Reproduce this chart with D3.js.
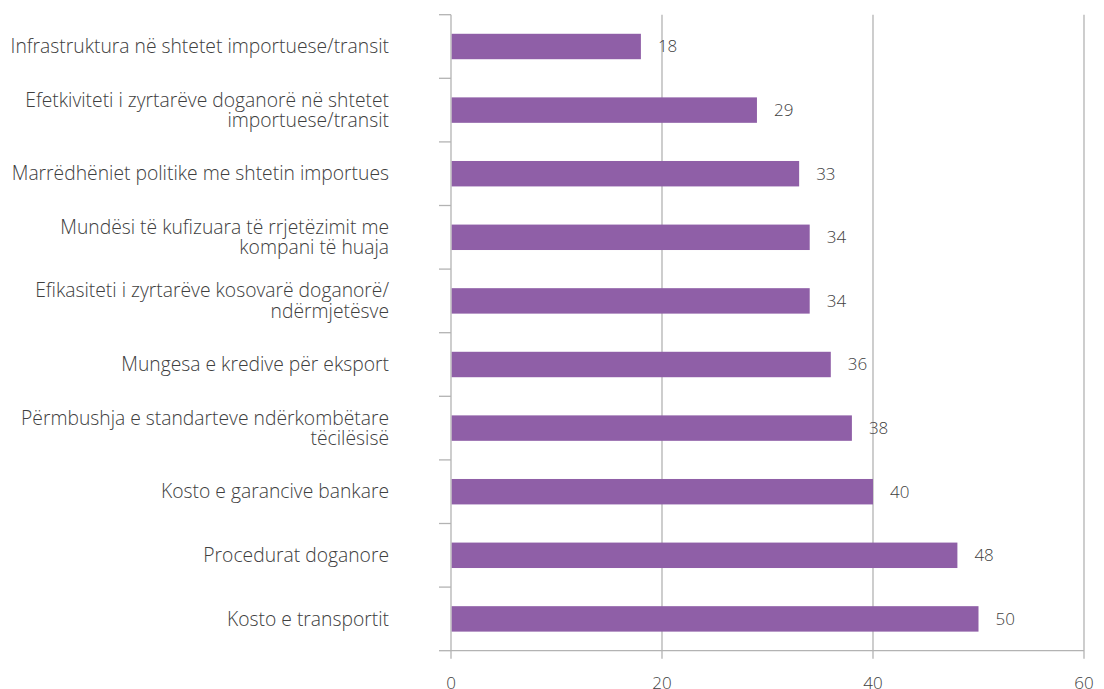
<!DOCTYPE html>
<html>
<head>
<meta charset="utf-8">
<script src="https://cdn.jsdelivr.net/npm/d3@7/dist/d3.min.js"></script>
<style>
  body { margin: 0; background: #fff; }
  text { font-family: "Open Sans", "Noto Sans", sans-serif; fill: #404040; }
</style>
</head>
<body>
<div id="chart"></div>
<script>
// kategoritë (rreshtat e ndarë me |)
var categories = [
  "Infrastruktura në shtetet importuese/transit",
  "Efetkiviteti i zyrtarëve doganorë në shtetet|importuese/transit",
  "Marrëdhëniet politike me shtetin importues",
  "Mundësi të kufizuara të rrjetëzimit me|kompani të huaja",
  "Efikasiteti i zyrtarëve kosovarë doganorë/|ndërmjetësve",
  "Mungesa e kredive për eksport",
  "Përmbushja e standarteve ndërkombëtare|tëcilësisë",
  "Kosto e garancive bankare",
  "Procedurat doganore",
  "Kosto e transportit"
];
var values = [18, 29, 33, 34, 34, 36, 38, 40, 48, 50];
var xTicks = [0, 20, 40, 60];

var width = 1104, height = 689;
var plotLeft = 451, plotRight = 1084, plotTop = 14.7, plotBottom = 650.7;

var svg = d3.select("#chart").append("svg")
  .attr("width", width)
  .attr("height", height);

var x = d3.scaleLinear().domain([0, 60]).range([plotLeft, plotRight]);
var y = d3.scaleBand()
  .domain(d3.range(categories.length))
  .range([plotTop, plotBottom])
  .paddingInner(0.6)
  .paddingOuter(0.3);
var yEdge = d3.scaleLinear().domain([0, categories.length]).range([plotTop, plotBottom]);

// vijat vertikale të rrjetës
svg.append("g").selectAll("line")
  .data(xTicks)
  .enter()
  .append("line")
  .attr("x1", function(d) { return x(d); })
  .attr("x2", function(d) { return x(d); })
  .attr("y1", plotTop)
  .attr("y2", plotBottom + 8)
  .attr("stroke", "#b3b3b3")
  .attr("stroke-width", 1.3);

// shenjat majtas ndërmjet kategorive
svg.append("g").selectAll("line")
  .data(d3.range(categories.length + 1))
  .enter()
  .append("line")
  .attr("x1", plotLeft - 12)
  .attr("x2", plotLeft)
  .attr("y1", function(d) { return yEdge(d); })
  .attr("y2", function(d) { return yEdge(d); })
  .attr("stroke", "#b3b3b3")
  .attr("stroke-width", 1.3);

// boshti poshtë
svg.append("line")
  .attr("x1", plotLeft).attr("x2", plotRight)
  .attr("y1", plotBottom).attr("y2", plotBottom)
  .attr("stroke", "#b3b3b3")
  .attr("stroke-width", 1.3);

// shtyllat
svg.append("g").selectAll("rect")
  .data(values)
  .enter()
  .append("rect")
  .attr("x", x(0) + 0.7)
  .attr("y", function(d, i) { return y(i); })
  .attr("width", function(d) { return x(d) - x(0) - 0.7; })
  .attr("height", y.bandwidth())
  .attr("fill", "#8F5FA7");

// vlerat
svg.append("g").selectAll("text")
  .data(values)
  .enter()
  .append("text")
  .attr("x", function(d) { return x(d) + 17; })
  .attr("y", function(d, i) { return y(i) + y.bandwidth() / 2; })
  .attr("dy", "0.35em")
  .attr("font-size", "17px")
  .attr("font-weight", 300)
  .text(function(d) { return d; });

// etiketat e kategorive
var labels = svg.append("g").selectAll("text")
  .data(categories)
  .enter()
  .append("text")
  .attr("text-anchor", "end")
  .attr("font-size", "19.3px")
  .attr("font-weight", 300)
  .attr("y", function(d, i) { return y(i) + y.bandwidth() / 2; });

labels.each(function(d) {
  var lines = d.split("|");
  var t = d3.select(this);
  lines.forEach(function(l, k) {
    t.append("tspan")
      .attr("x", 389)
      .attr("dy", k === 0 ? (0.35 - (lines.length - 1) * 0.53) + "em" : "1.06em")
      .text(l);
  });
});

// etiketat e boshtit x
svg.append("g").selectAll("text")
  .data(xTicks)
  .enter()
  .append("text")
  .attr("x", function(d) { return x(d); })
  .attr("y", 683)
  .attr("dy", "0.35em")
  .attr("text-anchor", "middle")
  .attr("font-size", "17px")
  .attr("font-weight", 300)
  .text(function(d) { return d; });
</script>
</body>
</html>
